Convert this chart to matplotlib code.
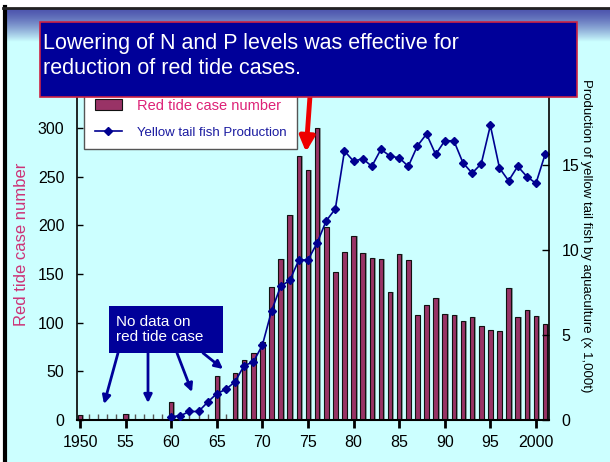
import matplotlib.pyplot as plt
import numpy as np
from matplotlib.patches import Rectangle, Patch
from matplotlib.lines import Line2D

# red tide case number (left axis)
tide_years = [1950, 1955, 1960, 1965, 1967, 1968, 1969, 1970, 1971, 1972,
              1973, 1974, 1975, 1976, 1977, 1978, 1979, 1980, 1981, 1982,
              1983, 1984, 1985, 1986, 1987, 1988, 1989, 1990, 1991, 1992,
              1993, 1994, 1995, 1996, 1997, 1998, 1999, 2000, 2001]
tide_cases = [5, 6, 18, 45, 48, 62, 69, 80, 137, 166,
              211, 271, 257, 300, 198, 152, 173, 189, 172, 167,
              166, 132, 171, 164, 108, 118, 125, 109, 108, 102,
              106, 97, 92, 91, 136, 106, 113, 107, 99]

# yellow tail production, x 1,000 t (right axis)
fish_years = list(range(1960, 2002))
fish_prod = [0.2, 0.25, 0.5, 0.5, 1.05, 1.55, 1.8, 2.25, 3.2, 3.4,
             4.4, 6.4, 7.85, 8.2, 9.4, 9.4, 10.4, 11.7, 12.4, 15.8,
             15.2, 15.35, 14.9, 15.9, 15.5, 15.4, 14.9, 16.1, 16.8, 15.6,
             16.4, 16.4, 15.1, 14.5, 15.05, 17.3, 14.8, 14.05, 14.9, 14.3,
             13.9, 15.6]

x_major = [1950, 1955, 1960, 1965, 1970, 1975, 1980, 1985, 1990, 1995, 2000]
x_labels = ['1950', '55', '60', '65', '70', '75', '80', '85', '90', '95', '2000']
left_ticks = [0, 50, 100, 150, 200, 250, 300, 350]
left_labels = ['0', '50', '100', '150', '200', '250', '300', '']   # 350 sits under the title box
right_ticks = [0, 5, 10, 15, 20]
right_labels = ['0', '5', '10', '15', '']

BG = '#CCFFFF'
NAVY = '#000090'
BOX = '#000099'
plt.rcParams['font.family'] = ['Liberation Sans', 'DejaVu Sans']

W, H = 610, 462
fig = plt.figure(figsize=(W / 100, H / 100), dpi=100)
fig.patch.set_facecolor('white')

# slide background
fig.add_artist(Rectangle((4 / W, 0), 1, 1 - 8 / H, transform=fig.transFigure,
                         facecolor=BG, edgecolor='none', zorder=-10))
hdr = fig.add_axes([4 / W, 1 - 42 / H, 1 - 4 / W, 34 / H], zorder=-5)
grad = np.linspace(0, 1, 64)[:, None]
top_c = np.array([0.30, 0.33, 0.68])
bot_c = np.array([0.80, 1.0, 1.0])
img = top_c + (bot_c - top_c) * grad[..., None] ** 1.4
hdr.imshow(np.repeat(img, 4, axis=1), aspect='auto', extent=[0, 1, 0, 1])
hdr.axis('off')
fig.add_artist(Line2D([4.5 / W, 4.5 / W], [0, 1 - 7 / H], transform=fig.transFigure,
                      color='black', lw=3, zorder=10))
fig.add_artist(Line2D([3 / W, 1], [1 - 8 / H, 1 - 8 / H], transform=fig.transFigure,
                      color='#222222', lw=2, zorder=10))

# main axes
ax = fig.add_axes([77 / W, 1 - 420 / H, 472 / W, 340.5 / H])
ax.set_facecolor('none')
ax2 = ax.twinx()

ax.bar(np.array(tide_years) + 0.18, tide_cases, width=0.5, color='#6a7d7d',
       alpha=0.7, zorder=1)
ax.bar(tide_years, tide_cases, width=0.5, color='#993366', edgecolor='#111111',
       linewidth=0.8, zorder=2)
ax2.plot(fish_years, fish_prod, color=NAVY, lw=1.2, marker='D', markersize=4.5,
         markerfacecolor=NAVY, markeredgecolor=NAVY)

ax.set_xlim(1949.67, 2001.43)
ax.set_ylim(0, 350)
ax2.set_ylim(0, 20)
ax.set_yticks(left_ticks)
ax.set_yticklabels(left_labels)
ax2.set_yticks(right_ticks)
ax2.set_yticklabels(right_labels)
ax.set_xticks(x_major)
ax.set_xticklabels(x_labels)
ax.set_xticks(range(1950, 2002), minor=True)

for a in (ax, ax2):
    a.spines['top'].set_visible(False)
ax.spines['right'].set_visible(False)
ax2.spines['left'].set_visible(False)
ax2.spines['bottom'].set_visible(False)
ax2.spines['right'].set_linewidth(1.2)
ax.spines['left'].set_linewidth(1.2)
ax.spines['bottom'].set_linewidth(1.5)

ax.tick_params(axis='x', which='major', direction='out', length=6, width=2,
               pad=5, labelsize=11.5)
ax.tick_params(axis='x', which='minor', direction='in', length=4, width=1,
               color='#555555')
ax.tick_params(axis='y', direction='in', length=4, width=1, pad=9, labelsize=11.5)
ax2.tick_params(axis='y', direction='in', length=5, width=1, pad=9, labelsize=11.5)

fig.text(22 / W, 1 - 244 / H, 'Red tide case number', rotation=90, color='#CC3377',
         fontsize=12, ha='center', va='center')
fig.text(586 / W, 1 - 236 / H, 'Production of yellow tail fish by aquaculture (x 1,000t)',
         rotation=270, color='black', fontsize=9.5, ha='center', va='center')

# legend
handles = [Patch(facecolor='#993366', edgecolor='#111111', linewidth=0.8),
           Line2D([], [], color=NAVY, lw=1.2, marker='D', markersize=4,
                  markerfacecolor=NAVY)]
leg = ax2.legend(handles, ['Red tide case number', 'Yellow tail fish Production'],
                 loc='upper left', bbox_to_anchor=(0.0, 0.995), fontsize=10.5,
                 frameon=True, fancybox=False, framealpha=1, edgecolor='#555555',
                 borderpad=0.7, labelspacing=0.9, handlelength=1.9,
                 handletextpad=1.0)
leg.get_texts()[0].set_color('#DD2277')
leg.get_texts()[1].set_color('#1a1aa0')
leg.get_texts()[1].set_fontsize(9.5)

# title box
fig.add_artist(Rectangle((40 / W, 1 - 97 / H), 537 / W, 75 / H, transform=fig.transFigure,
                         facecolor=BOX, edgecolor='#cc2244', lw=1.2, zorder=20))
fig.text(43 / W, 1 - 56 / H, 'Lowering of N and P levels was effective for\nreduction of red tide cases.',
         color='white', fontsize=15.5, ha='left', va='center',
         linespacing=1.25, zorder=21)

# red arrow to the peak
ax2.annotate('', xy=(306, H - 152), xytext=(310, H - 96), xycoords='figure pixels',
             arrowprops=dict(arrowstyle='-|>', color='#ee0000', lw=3.5,
                             mutation_scale=22, shrinkA=0, shrinkB=0), zorder=22)

# "no data" box and arrows
fig.add_artist(Rectangle((109 / W, 1 - 353 / H), 114 / W, 47 / H, transform=fig.transFigure,
                         facecolor=BOX, edgecolor='none', zorder=20))
fig.text(116 / W, 1 - 329.5 / H, 'No data on\nred tide case', color='white',
         fontsize=11, ha='left', va='center', linespacing=1.15, zorder=21)
starts = [(118, 353), (148, 353), (177, 353), (203, 353)]
ends = [(104, 404), (148, 403), (192, 392), (223, 369)]
for (sx, sy), (ex, ey) in zip(starts, ends):
    ax2.annotate('', xy=(ex, H - ey), xytext=(sx, H - sy), xycoords='figure pixels',
                 arrowprops=dict(arrowstyle='-|>', color=BOX, lw=2,
                                 mutation_scale=12, shrinkA=0, shrinkB=0))

fig.savefig('out.png', dpi=100, facecolor=fig.get_facecolor())
